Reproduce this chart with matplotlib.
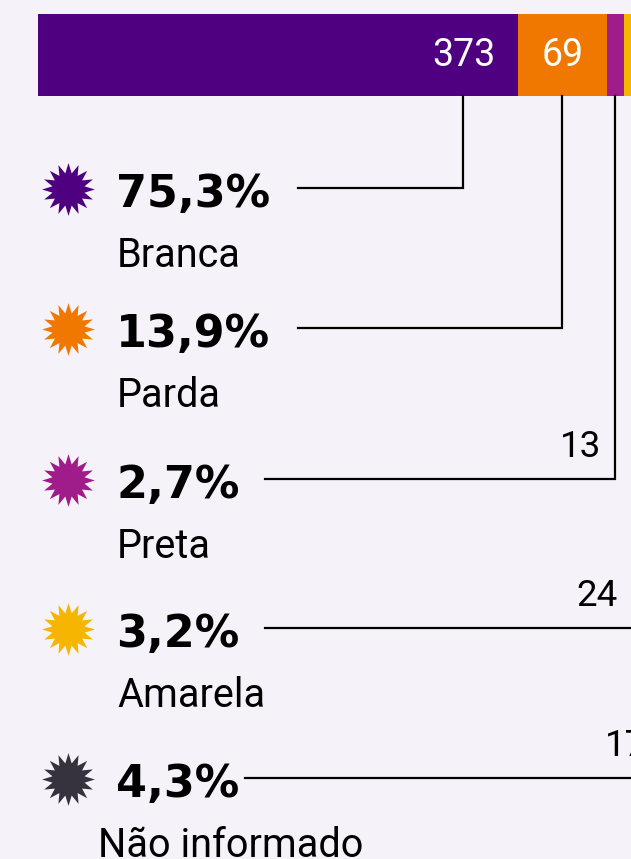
import matplotlib
matplotlib.use("Agg")
import matplotlib.pyplot as plt
import matplotlib.path as mpath
import numpy as np

# Data
categories = ["Branca", "Parda", "Preta", "Amarela", "Não informado"]
counts = [373, 69, 13, 24, 17]
percent_labels = ["75,3%", "13,9%", "2,7%", "3,2%", "4,3%"]
colors = ["#4f0080", "#f07800", "#a01c8a", "#f6b500", "#36333f"]

bg = "#f5f2f9"
scale = 1.287        # pixels per unit on the bar
bar_left_px = 38

fig = plt.figure(figsize=(6.31, 8.59), dpi=100)
fig.patch.set_facecolor(bg)
ax = fig.add_axes([0, 0, 1, 1])
ax.set_facecolor(bg)
ax.set_xlim(-bar_left_px / scale, (631 - bar_left_px) / scale)
ax.set_ylim(859, 0)
ax.axis("off")


def px(x):
    # pixel x -> data x
    return (x - bar_left_px) / scale


# Stacked bar
lefts = np.concatenate([[0], np.cumsum(counts)[:-1]])
ax.barh(55, counts, left=lefts, height=82, color=colors, linewidth=0)

# Values inside the big segments
for i in range(2):
    ax.text(lefts[i] + counts[i] - 23 / scale, 55, str(counts[i]), color="white",
            fontsize=27, family="Roboto", ha="right", va="center")

# Left column: star, percentage, label, connector
row_y = [188, 328, 479, 628, 778]
line_start = [298, 298, 265, 265, 245]
label_x = [117, 117, 117, 117, 98]
value_pad = [0, 0, 14, 21, 19]
star = mpath.Path.unit_regular_star(16, innerCircle=0.62)

for i, cat in enumerate(categories):
    y = row_y[i]
    ax.plot(px(68), y + 1, marker=star, markersize=38, color=colors[i],
            markeredgewidth=0, linestyle="none")
    ax.text(px(116), y + 19, percent_labels[i], fontsize=32, fontweight="bold",
            family="DejaVu Sans", ha="left", va="baseline", color="black")
    ax.text(px(label_x[i]), y + 79, cat, fontsize=28.5, family="Roboto",
            ha="left", va="baseline", color="black")

    # the first connector drops from its value label, the others from the segment middle
    if i == 0:
        drop = lefts[i] + counts[i] - 55 / scale
    else:
        drop = lefts[i] + counts[i] / 2
    if i >= 2:
        ax.text(drop - value_pad[i] / scale, y - 22, str(counts[i]), fontsize=26.5,
                family="Roboto", ha="right", va="baseline", color="black")
    ax.plot([px(line_start[i]), drop, drop], [y, y, 96], color="black",
            linewidth=1.6, solid_joinstyle="miter")

fig.savefig("out.png", dpi=100, facecolor=bg)
